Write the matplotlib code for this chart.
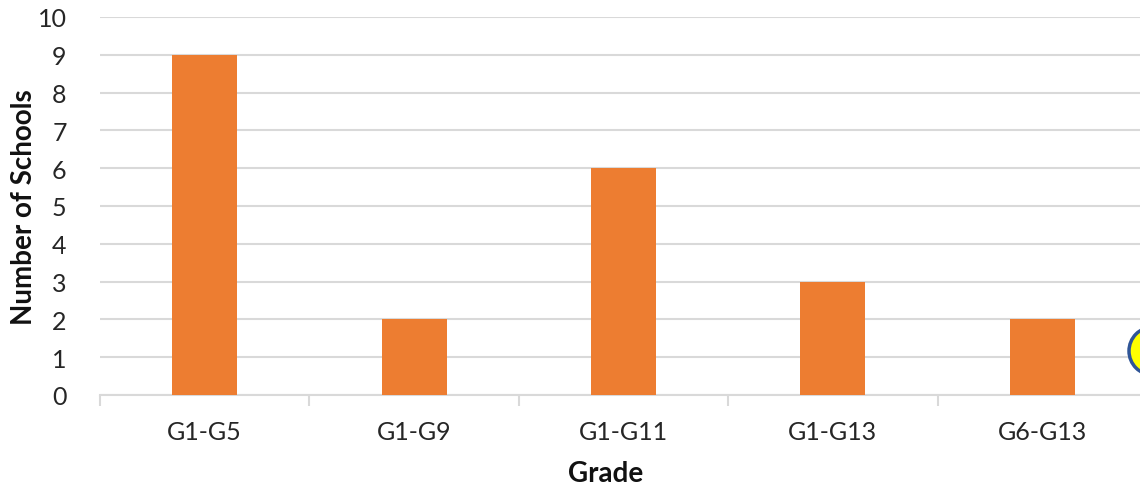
import matplotlib
matplotlib.use("Agg")
import matplotlib.pyplot as plt
from matplotlib.patches import Circle
from matplotlib.transforms import IdentityTransform

grades = ["G1-G5", "G1-G9", "G1-G11", "G1-G13", "G6-G13"]
schools = [9, 2, 6, 3, 2]
y_ticks = list(range(0, 11))

plt.rcParams['font.family'] = ['Lato', 'DejaVu Sans']

W, H = 1140, 489
fig = plt.figure(figsize=(W / 100, H / 100), dpi=100)
ax = fig.add_axes([100 / W, 93 / H, 1047 / W, 378 / H])

x = range(len(grades))
ax.bar(x, schools, width=0.31, color="#ED7D31", zorder=3)

ax.set_xlim(-0.5, len(grades) - 0.5)
ax.set_ylim(0, 10)
ax.set_yticks(y_ticks)
ax.set_yticklabels([str(v) for v in y_ticks], fontsize=18, color="#262626")
ax.set_xticks(list(x))
ax.set_xticklabels(grades, fontsize=18, color="#262626")
ax.tick_params(axis="y", length=0, pad=24)
ax.tick_params(axis="x", length=0, pad=18)

# category boundary ticks
ax.set_xticks([i - 0.5 for i in range(len(grades) + 1)], minor=True)
ax.tick_params(axis="x", which="minor", length=8, width=1.5, color="#d9d9d9")

ax.grid(axis="y", color="#d9d9d9", linewidth=1.5, zorder=0)
for side in ("top", "right", "left"):
    ax.spines[side].set_visible(False)
ax.spines["bottom"].set_color("#d9d9d9")
ax.spines["bottom"].set_linewidth(1.5)

fig.text(24 / W, 1 - 207 / H, "Number of Schools", rotation=90,
         ha="center", va="center", fontsize=20, fontweight="bold", color="#111111")
fig.text(606 / W, 1 - 474 / H, "Grade", ha="center", va="center",
         fontsize=20, fontweight="bold", color="#111111")

# yellow marker at the right edge (pixel coordinates, origin bottom-left)
fig.patches.append(Circle((1153, H - 352), 24, transform=IdentityTransform(),
                          facecolor="#FFFF00", edgecolor="#2F5597", linewidth=2.5,
                          zorder=5))

fig.savefig("out.png", dpi=100)
